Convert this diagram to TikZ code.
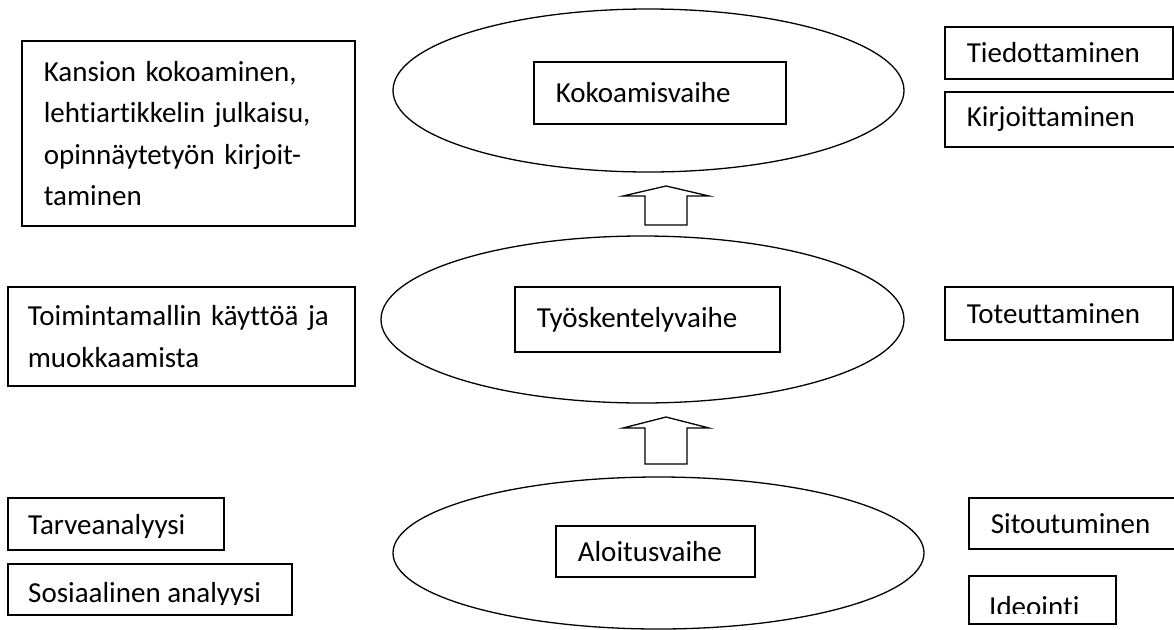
\documentclass[tikz,border=0pt]{standalone}
\usepackage{fontspec}
\setmainfont{Carlito}[Ligatures={NoCommon}]
\usetikzlibrary{shapes.geometric}

\tikzset{
  vaihe/.style = {draw, ellipse, line width=1.3pt, inner sep=0pt},
  laatikko/.style = {draw, line width=1.6pt, anchor=north west, inner xsep=22pt,
    inner ysep=0pt, align=left, font=\fontsize{29}{41.5}\selectfont},
  teksti/.style = {inner sep=0pt, anchor=base west, font=\fontsize{29}{41.5}\selectfont},
  nuoli/.style = {line width=1.3pt, line join=miter}
}

\begin{document}
\begin{tikzpicture}[x=1pt, y=-1pt]
    \clip (0,0) rectangle (1174,629);
    % vaiheet
    \node[vaihe, minimum width=511pt, minimum height=163pt] (kokoamis ellipsi) at (648.5, 90.5) {};
    \node[vaihe, minimum width=523pt, minimum height=167pt] (tyoskentely ellipsi) at (642.5, 319.5) {};
    \node[vaihe, minimum width=531pt, minimum height=152pt] (aloitus ellipsi) at (658.5, 553) {};
    \node[laatikko, text width=208pt, minimum height=62pt] (kokoamisvaihe) at (533, 61) {Kokoamisvaihe};
    \node[laatikko, text width=221pt, minimum height=65pt] (tyoskentelyvaihe) at (514, 286) {Työskentelyvaihe};
    \node[laatikko, text width=155pt, minimum height=51pt] (aloitusvaihe) at (555, 525) {Aloitusvaihe};
    % nuolet
    \coordinate (nuoli 1) at (666, 225);
    \coordinate (nuoli 2) at (666, 464);
    \draw[nuoli] (nuoli 1) -- ++(-21,0) -- ++(0,-29) -- ++(-22,0) -- ++(43,-10) -- ++(43,10) -- ++(-22,0) -- ++(0,29) -- cycle;
    \draw[nuoli] (nuoli 2) -- ++(-21,0) -- ++(0,-36) -- ++(-22,0) -- ++(43,-11) -- ++(43,11) -- ++(-22,0) -- ++(0,36) -- cycle;
    % vasen puoli
    \node[laatikko, text width=289pt, minimum height=185pt] (kansio) at (21, 40)
      {Kansion kokoaminen,\\ lehtiartikkelin julkaisu,\\ opinnäytetyön kirjoit-\\ taminen};
    \node[laatikko, inner xsep=20pt, text width=307pt, minimum height=99pt] (toimintamalli) at (7, 286)
      {Toimintamallin käyttöä ja\\ muokkaamista};
    \node[laatikko, minimum width=216pt, minimum height=52pt] (tarveanalyysi) at (7, 497) {};
    \node[laatikko, minimum width=284pt, minimum height=51pt] (sosiaalinen) at (7, 563) {};
    \begin{scope}
      \clip (7, 497) rectangle (223, 537);
      \node[teksti] (tarveanalyysi teksti) at (28, 534) {Tarveanalyysi};
    \end{scope}
    \begin{scope}
      \clip (7, 563) rectangle (291, 604);
      \node[teksti] (sosiaalinen teksti) at (28, 602) {Sosiaalinen analyysi};
    \end{scope}
    % oikea puoli
    \node[laatikko, text width=184pt, minimum height=52pt] (tiedottaminen) at (944, 26) {Tiedottaminen};
    \node[laatikko, text width=197pt, minimum height=55pt] (kirjoittaminen) at (944, 91) {Kirjoittaminen};
    \node[laatikko, text width=184pt, minimum height=53pt] (toteuttaminen) at (944, 286) {Toteuttaminen};
    \node[laatikko, text width=173pt, minimum height=51pt] (sitoutuminen) at (968, 497) {Sitoutuminen};
    \node[laatikko, minimum width=147pt, minimum height=48pt] (ideointi) at (968, 575) {};
    \begin{scope}
      \clip (968, 575) rectangle (1115, 613);
      \node[teksti] (ideointi teksti) at (989, 616) {Ideointi};
    \end{scope}
\end{tikzpicture}
\end{document}
